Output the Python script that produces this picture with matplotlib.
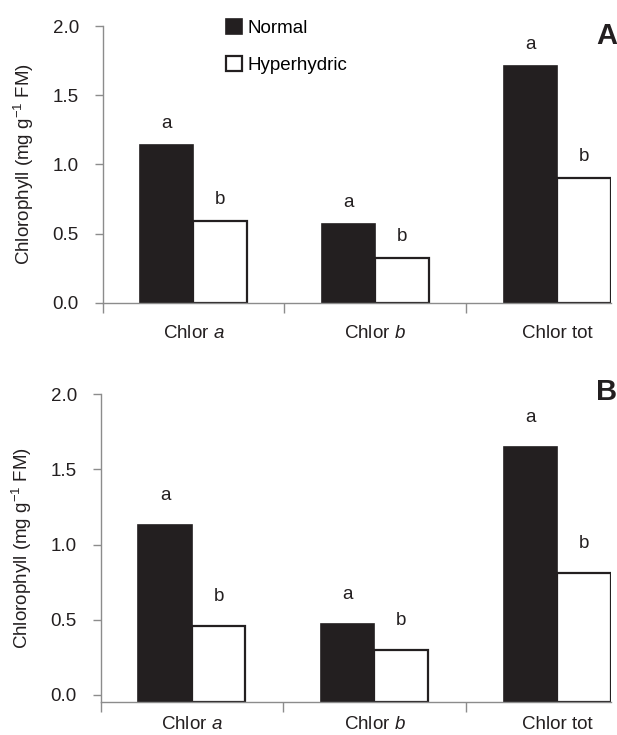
import numpy as np
import matplotlib
matplotlib.use("Agg")
import matplotlib.pyplot as plt

# datos
categorias = ["Chlor $\\it{a}$", "Chlor $\\it{b}$", "Chlor tot"]
series = ["Normal", "Hyperhydric"]

normal_A = [1.14, 0.57, 1.71]
hiper_A = [0.59, 0.32, 0.90]
letras_normal_A = ["a", "a", "a"]
letras_hiper_A = ["b", "b", "b"]

normal_B = [1.13, 0.47, 1.65]
hiper_B = [0.46, 0.30, 0.81]
letras_normal_B = ["a", "a", "a"]
letras_hiper_B = ["b", "b", "b"]

yticks = [0.0, 0.5, 1.0, 1.5, 2.0]

plt.rcParams["font.family"] = ["Liberation Sans", "DejaVu Sans"]
plt.rcParams["mathtext.fontset"] = "custom"
plt.rcParams["mathtext.rm"] = "Liberation Sans"
plt.rcParams["mathtext.it"] = "Liberation Sans:italic"
plt.rcParams["mathtext.bf"] = "Liberation Sans:bold"

negro = "#231f20"
gris = "#8c8c8c"
W, H = 617, 735
fs = 13.5

fig = plt.figure(figsize=(W / 100, H / 100), dpi=100)


def panel(rect, normal, hiper, let_n, let_h, ymin, offset, xpad, letra):
    ax = fig.add_axes(rect)
    x = np.arange(len(categorias))
    ancho = 0.293
    b1 = ax.bar(x - ancho / 2, np.array(normal) - ymin, ancho, bottom=ymin,
                color=negro, edgecolor=negro, linewidth=1.2, label=series[0])
    b2 = ax.bar(x + ancho / 2, np.array(hiper) - ymin, ancho, bottom=ymin,
                color="white", edgecolor=negro, linewidth=1.6, label=series[1])
    for i in range(len(x)):
        ax.annotate(let_n[i], (x[i] - ancho / 2, normal[i]), xytext=(0, offset),
                    textcoords="offset points", ha="center", va="bottom",
                    fontsize=fs, color=negro)
        ax.annotate(let_h[i], (x[i] + ancho / 2, hiper[i]), xytext=(0, offset),
                    textcoords="offset points", ha="center", va="bottom",
                    fontsize=fs, color=negro)
    ax.set_xlim(-0.5, 2.295)
    ax.set_ylim(ymin, 2.0)
    ax.set_yticks(yticks)
    ax.set_yticklabels(["%.1f" % v for v in yticks])
    ax.set_xticks(x)
    ax.set_xticklabels(categorias)
    ax.set_xticks([-0.5, 0.5, 1.5], minor=True)
    ax.tick_params(axis="x", which="major", length=0, pad=xpad, labelsize=fs,
                   labelcolor=negro)
    ax.tick_params(axis="x", which="minor", length=7, width=1, color=gris,
                   direction="out")
    ax.tick_params(axis="y", length=6, width=1, color=gris, labelsize=fs,
                   labelcolor=negro, pad=11)
    for s in ["top", "right"]:
        ax.spines[s].set_visible(False)
    for s in ["left", "bottom"]:
        ax.spines[s].set_color(gris)
        ax.spines[s].set_linewidth(1)
    ax.set_ylabel("Chlorophyll (mg g$^{-1}$ FM)", fontsize=fs, color=negro,
                  labelpad=12)
    fig.text(617 / W, letra[1], letra[0], ha="right", va="center",
             fontsize=21, fontweight="bold", color=negro)
    return ax, b1, b2


axA, b1, b2 = panel([102.5 / W, 1 - 302.7 / H, (611 - 102.5) / W, (302.7 - 26) / H],
                    normal_A, hiper_A, letras_normal_A, letras_hiper_A,
                    0.0, 9.5, 16, ("A", 1 - 36 / H))
axB, _, _ = panel([100.5 / W, 1 - 702.3 / H, (611 - 100.5) / W, (702.3 - 394.3) / H],
                  normal_B, hiper_B, letras_normal_B, letras_hiper_B,
                  -0.05, 15, 10, ("B", 1 - 392 / H))

axA.legend(handles=[b1, b2], labels=series, loc="upper left",
           bbox_to_anchor=(226 / W, 1 - 19 / H), bbox_transform=fig.transFigure,
           frameon=False, fontsize=fs, handlelength=0.85, handleheight=0.85,
           handletextpad=0.3, labelspacing=1.0, borderpad=0, borderaxespad=0)

fig.savefig("out.png", dpi=100)
